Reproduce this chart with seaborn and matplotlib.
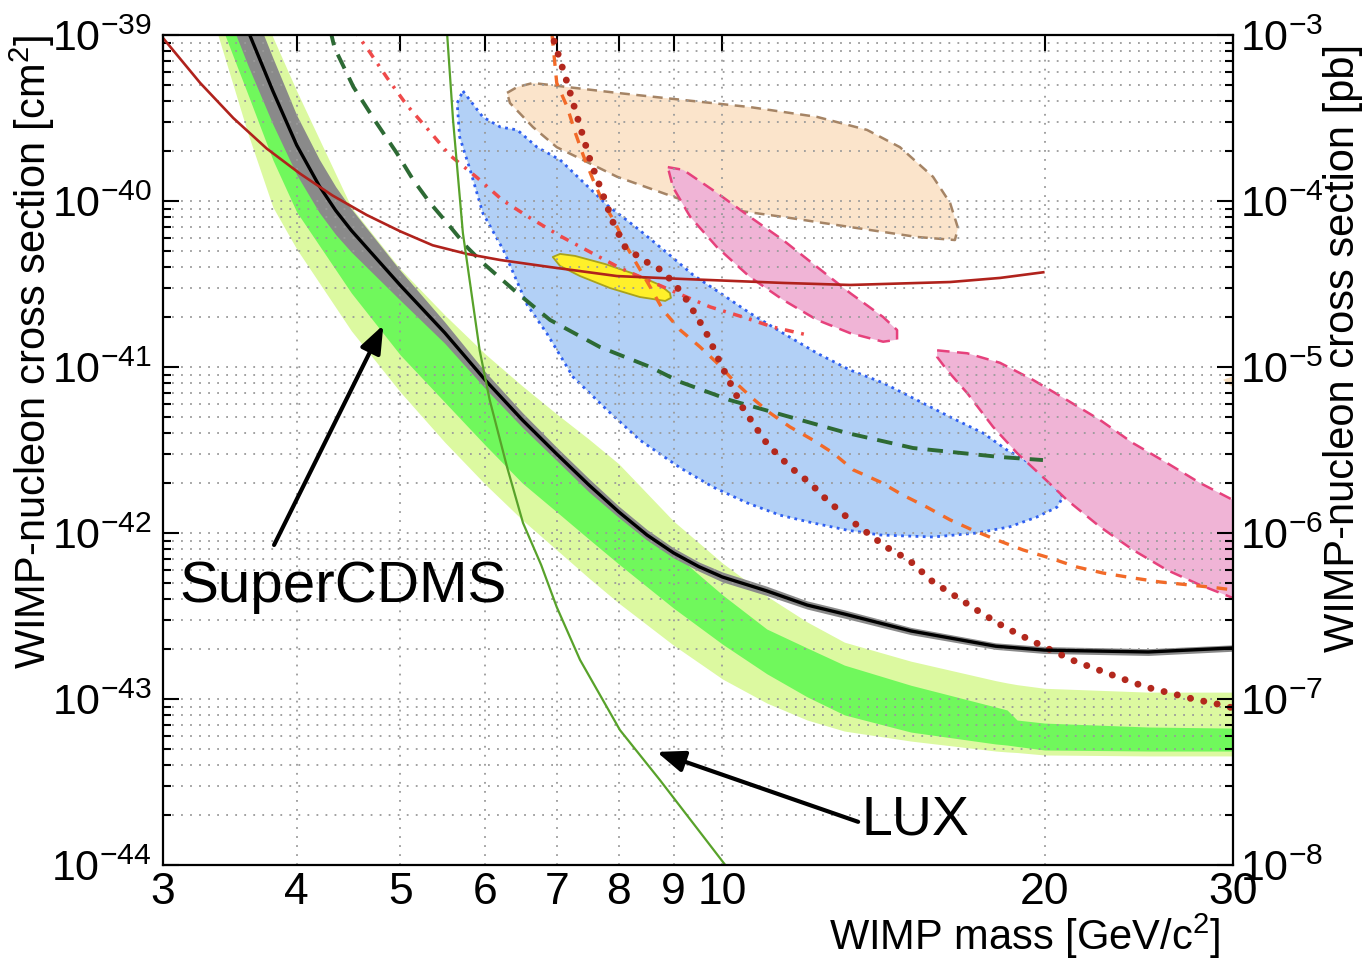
import numpy as np
import pandas as pd
import matplotlib
matplotlib.use("Agg")
import matplotlib.pyplot as plt
from matplotlib.ticker import (FixedLocator, FixedFormatter, LogLocator,
                               LogFormatterSciNotation, NullLocator, NullFormatter)
import seaborn as sns

# ---------------------------------------------------------------- data
CM2_PER_PB = 1e-36

x_ticks = [3, 4, 5, 6, 7, 8, 9, 10, 20, 30]
x_tick_labels = ["3", "4", "5", "6", "7", "8", "9", "10", "20", "30"]

# SuperCDMS observed limit with its uncertainty band
cdms_mass = [3.5, 3.6, 3.8, 4.0, 4.2, 4.35, 4.5, 5.0, 5.5, 6.0, 6.5, 7.0, 7.5, 8.0,
             8.5, 9.0, 9.5, 10, 11, 12, 13, 15, 18, 20, 25, 30]
cdms_limit = [1.74e-39, 1.07e-39, 4.60e-40, 2.17e-40, 1.23e-40, 8.77e-41, 6.64e-41,
              3.10e-41, 1.61e-41, 8.36e-42, 4.80e-42, 2.99e-42, 1.95e-42, 1.34e-42,
              9.73e-43, 7.59e-43, 6.28e-43, 5.43e-43, 4.48e-43, 3.68e-43, 3.25e-43,
              2.57e-43, 2.08e-43, 1.97e-43, 1.92e-43, 2.03e-43]
cdms_limit_lo = [1.05e-39, 6.61e-40, 2.90e-40, 1.44e-40, 8.51e-41, 6.28e-41, 4.92e-41,
                 2.52e-41, 1.39e-41, 7.45e-42, 4.33e-42, 2.73e-42, 1.77e-42, 1.24e-42,
                 9.06e-43, 7.08e-43, 5.90e-43, 5.07e-43, 4.20e-43, 3.48e-43, 3.07e-43,
                 2.44e-43, 1.99e-43, 1.88e-43, 1.83e-43, 1.94e-43]
cdms_limit_hi = [2.88e-39, 1.74e-39, 7.29e-40, 3.29e-40, 1.78e-40, 1.22e-40, 8.95e-41,
                 3.81e-41, 1.87e-41, 9.38e-42, 5.32e-42, 3.28e-42, 2.13e-42, 1.45e-42,
                 1.05e-42, 8.13e-43, 6.70e-43, 5.82e-43, 4.78e-43, 3.90e-43, 3.44e-43,
                 2.70e-43, 2.18e-43, 2.07e-43, 2.01e-43, 2.12e-43]

# expected sensitivity: 1 sigma (green) and 2 sigma (light) bands
sens_mass = [3.3, 3.4, 3.5, 3.6, 3.8, 4.0, 4.5, 5.0, 5.5, 6.0, 6.5, 7.0, 7.5, 8.0,
             9.0, 10, 11, 12, 13, 15, 18, 18.45, 18.85, 20, 25, 30]
sens_2s_lo = [1.62e-39, 8.63e-40, 4.67e-40, 2.57e-40, 9.20e-41, 5.14e-41, 1.65e-41,
              7.06e-42, 3.53e-42, 1.97e-42, 1.20e-42, 7.91e-43, 5.36e-43, 3.78e-43,
              2.11e-43, 1.32e-43, 9.46e-44, 7.47e-44, 6.41e-44, 5.58e-44, 4.86e-44,
              4.80e-44, 4.76e-44, 4.60e-44, 4.54e-44, 4.54e-44]
sens_1s_lo = [1.89e-39, 1.15e-39, 7.06e-40, 4.42e-40, 1.77e-40, 8.59e-41, 2.79e-41,
              1.18e-41, 6.15e-42, 3.39e-42, 2.00e-42, 1.34e-42, 9.20e-43, 6.50e-43,
              3.53e-43, 2.14e-43, 1.42e-43, 1.03e-43, 8.02e-44, 6.32e-44, 5.36e-44,
              5.28e-44, 5.18e-44, 4.93e-44, 4.86e-44, 4.86e-44]
sens_1s_hi = [4.93e-39, 2.87e-39, 1.74e-39, 1.07e-39, 4.60e-40, 2.17e-40, 6.64e-41,
              3.10e-41, 1.61e-41, 8.36e-42, 4.80e-42, 2.99e-42, 1.95e-42, 1.34e-42,
              7.59e-43, 4.24e-43, 2.64e-43, 2.03e-43, 1.60e-43, 1.21e-43, 8.95e-44,
              8.59e-44, 7.47e-44, 7.16e-44, 6.78e-44, 6.68e-44]
sens_2s_hi = [7.74e-39, 5.00e-39, 3.21e-39, 2.14e-39, 9.72e-40, 4.60e-40, 9.14e-41,
              3.89e-41, 2.06e-41, 1.20e-41, 7.69e-42, 5.21e-42, 3.68e-42, 2.61e-42,
              1.18e-42, 6.59e-43, 4.17e-43, 2.91e-43, 2.20e-43, 1.69e-43, 1.29e-43,
              1.25e-43, 1.22e-43, 1.16e-43, 1.10e-43, 1.10e-43]

# LUX
lux_mass = [5.51, 5.53, 5.60, 5.72, 5.93, 6.06, 6.29, 6.51, 6.77, 7.0, 7.36, 8.02,
            8.74, 10.06, 10.38]
lux_sigma = [1.34e-39, 1.00e-39, 3.08e-40, 6.41e-41, 1.26e-41, 6.32e-42, 2.50e-42,
             1.15e-42, 6.41e-43, 3.58e-43, 1.72e-43, 6.50e-44, 3.25e-44, 1.00e-44, 7.6e-45]

# solid dark-red limit
red_mass = [3.0, 3.25, 3.49, 3.75, 4.03, 4.32, 4.65, 5.0, 5.36, 5.77, 6.2, 6.9, 7.97,
            9.19, 11.39, 13.16, 16.32, 18.17, 20.0]
red_sigma = [9.59e-40, 5.14e-40, 3.16e-40, 2.07e-40, 1.46e-40, 1.08e-40, 8.24e-41,
             6.56e-41, 5.41e-41, 4.80e-41, 4.41e-41, 4.00e-41, 3.53e-41, 3.39e-41,
             3.21e-41, 3.12e-41, 3.25e-41, 3.44e-41, 3.73e-41]

# dark-green dashed limit
dg_mass = [4.30, 4.34, 4.52, 4.75, 4.96, 5.14, 5.33, 5.53, 5.77, 5.97, 6.43, 6.90,
           7.68, 8.56, 9.13, 10.16, 11.56, 13.08, 15.07, 18.17, 19.93]
dg_sigma = [1.07e-39, 8.35e-40, 4.86e-40, 2.95e-40, 1.95e-40, 1.34e-40, 9.73e-41,
            7.36e-41, 5.28e-41, 4.24e-41, 2.79e-41, 1.92e-41, 1.32e-41, 1.00e-41,
            8.13e-42, 6.32e-42, 5.00e-42, 4.00e-42, 3.25e-42, 2.87e-42, 2.75e-42]

# light-red dash-dot limit
dd_mass = [4.51, 4.56, 4.68, 4.86, 5.07, 5.33, 5.56, 5.90, 6.23, 6.61, 7.05, 7.52,
           8.02, 9.07, 9.74, 10.45, 11.15, 12.0]
dd_sigma = [1.10e-39, 1.00e-39, 7.90e-40, 5.51e-40, 3.78e-40, 2.61e-40, 1.89e-40,
            1.38e-40, 1.01e-40, 7.91e-41, 6.16e-41, 4.93e-41, 3.95e-41, 2.79e-41,
            2.30e-41, 2.00e-41, 1.74e-41, 1.56e-41]

# dark-red dotted limit
dot_mass = [6.90, 6.94, 7.16, 7.33, 7.52, 7.72, 7.90, 8.11, 8.43, 8.76, 8.99, 9.23,
            9.47, 9.69, 9.95, 10.21, 10.45, 10.75, 11.01, 11.29, 11.59, 11.89, 12.20,
            12.52, 13.16, 14.22, 14.94, 15.73, 16.56, 17.40, 18.33, 19.30, 20.28,
            21.35, 22.44, 23.68, 24.88, 26.14, 27.53, 28.99, 30.0]
dot_sigma = [1.10e-39, 9.72e-40, 5.14e-40, 3.08e-40, 1.77e-40, 1.12e-40, 7.46e-41,
             5.28e-41, 4.41e-41, 3.84e-41, 3.25e-41, 2.61e-41, 2.00e-41, 1.54e-41,
             1.06e-41, 7.59e-42, 5.66e-42, 4.30e-42, 3.44e-42, 2.91e-42, 2.47e-42,
             2.17e-42, 1.87e-42, 1.58e-42, 1.20e-42, 8.24e-43, 6.87e-43, 5.07e-43,
             4.11e-43, 3.34e-43, 2.72e-43, 2.30e-43, 1.97e-43, 1.69e-43, 1.50e-43,
             1.32e-43, 1.18e-43, 1.09e-43, 1.00e-43, 9.33e-44, 8.83e-44]

# orange dashed limit
or_mass = [6.93, 7.0, 7.16, 7.28, 7.41, 7.57, 7.73, 7.94, 8.14, 8.56, 8.80, 9.13,
           9.53, 9.88, 10.27, 10.66, 11.08, 11.56, 12.15, 12.69, 13.25, 14.04, 14.75,
           15.53, 16.32, 17.14, 18.05, 19.09, 20.23, 21.44, 22.68, 24.19, 25.64,
           27.35, 28.99, 30.0]
or_sigma = [1.00e-39, 5.14e-40, 3.68e-40, 2.61e-40, 1.89e-40, 1.34e-40, 9.86e-41,
            7.36e-41, 5.28e-41, 3.03e-41, 2.20e-41, 1.67e-41, 1.32e-41, 1.06e-41,
            8.13e-42, 6.50e-42, 5.28e-42, 4.36e-42, 3.63e-42, 3.03e-42, 2.40e-42,
            2.03e-42, 1.69e-42, 1.43e-42, 1.20e-42, 1.04e-42, 9.08e-43, 7.91e-43,
            7.07e-43, 6.24e-43, 5.74e-43, 5.36e-43, 5.07e-43, 4.86e-43, 4.67e-43, 4.54e-43]

# signal regions (closed contours)
blue_mass = [5.72, 5.97, 6.20, 6.43, 6.71, 7.05, 7.41, 7.80, 8.32, 8.88, 9.39, 10.01,
             10.61, 11.39, 12.26, 13.16, 14.13, 15.20, 16.32, 17.52, 18.45, 19.38,
             20.23, 20.81, 20.54, 19.68, 18.56, 17.29, 15.73, 14.04, 13.08, 12.15,
             11.32, 10.54, 9.80, 9.13, 8.37, 7.80, 7.25, 6.85, 6.57, 6.24, 5.97,
             5.81, 5.68, 5.65]
blue_sigma = [4.60e-40, 3.21e-40, 2.79e-40, 2.68e-40, 2.11e-40, 1.77e-40, 1.30e-40,
              9.46e-41, 6.87e-41, 4.86e-41, 3.58e-41, 2.72e-41, 2.11e-41, 1.60e-41,
              1.21e-41, 9.59e-42, 8.02e-42, 6.32e-42, 5.00e-42, 4.00e-42, 3.16e-42,
              2.64e-42, 2.08e-42, 1.65e-42, 1.43e-42, 1.25e-42, 1.09e-42, 1.00e-42,
              9.46e-43, 9.73e-43, 1.04e-42, 1.15e-42, 1.28e-42, 1.52e-42, 1.89e-42,
              2.47e-42, 3.63e-42, 5.51e-42, 8.71e-42, 1.60e-41, 2.36e-41, 5.07e-41,
              8.47e-41, 1.54e-40, 2.43e-40, 3.89e-40]

peach_mass = [6.29, 6.43, 6.65, 7.16, 7.97, 9.19, 10.61, 12.26, 13.65, 14.65, 15.73,
              16.32, 16.60, 16.49, 15.20, 13.16, 11.39, 10.23, 9.19, 7.97, 7.0, 6.65, 6.33]
peach_sigma = [4.48e-40, 4.86e-40, 5.14e-40, 4.86e-40, 4.48e-40, 4.06e-40, 3.68e-40,
               3.21e-40, 2.68e-40, 2.11e-40, 1.40e-40, 9.73e-41, 6.87e-41, 5.82e-41,
               6.07e-41, 6.97e-41, 8.02e-41, 8.83e-41, 1.01e-40, 1.40e-40, 2.11e-40,
               2.79e-40, 3.89e-40]
peach_edge_mass = [29.4, 31.0, 31.0]
peach_edge_sigma = [8.36e-42, 9.33e-42, 6.50e-42]

pink1_mass = [8.89, 9.19, 9.88, 10.61, 11.39, 12.26, 13.16, 14.13, 14.56, 14.56, 14.13,
              13.16, 12.26, 11.39, 10.61, 9.88, 9.33, 8.99]
pink1_sigma = [1.60e-40, 1.54e-40, 1.12e-40, 8.02e-41, 5.82e-41, 4.00e-41, 2.79e-41,
               2.00e-41, 1.67e-41, 1.46e-41, 1.42e-41, 1.60e-41, 1.92e-41, 2.54e-41,
               3.48e-41, 5.28e-41, 8.02e-41, 1.21e-40]

pink2_mass = [15.87, 16.93, 18.17, 19.51, 20.99, 22.53, 24.19, 26.03, 27.95, 30.0, 31.8,
              31.8, 30.0, 27.95, 26.03, 24.19, 22.53, 20.99, 19.93, 18.85, 17.90, 16.93,
              16.21, 15.87]
pink2_sigma = [1.26e-41, 1.21e-41, 1.06e-41, 8.36e-42, 6.32e-42, 4.80e-42, 3.48e-42,
               2.64e-42, 2.00e-42, 1.58e-42, 1.30e-42, 3.68e-43, 4.06e-43, 4.86e-43,
               5.98e-43, 7.91e-43, 1.09e-42, 1.58e-42, 2.17e-42, 3.03e-42, 4.36e-42,
               6.97e-42, 9.59e-42, 1.15e-41]

yellow_mass = [6.94, 7.05, 7.28, 7.77, 8.28, 8.74, 8.93, 8.95, 8.84, 8.37, 7.85, 7.36, 7.05]
yellow_sigma = [4.60e-41, 4.80e-41, 4.67e-41, 4.17e-41, 3.63e-41, 3.12e-41, 2.79e-41,
                2.61e-41, 2.50e-41, 2.64e-41, 2.99e-41, 3.53e-41, 4.06e-41]

# ---------------------------------------------------------------- style
sns.set_theme(style="white")
plt.rcParams["font.family"] = ["Liberation Sans", "DejaVu Sans"]
plt.rcParams["mathtext.fontset"] = "custom"
plt.rcParams["mathtext.rm"] = "Liberation Sans"
plt.rcParams["mathtext.it"] = "Liberation Sans:italic"
plt.rcParams["mathtext.bf"] = "Liberation Sans:bold"
plt.rcParams["mathtext.default"] = "regular"
plt.rcParams["axes.unicode_minus"] = False
for key in ("text.color", "axes.labelcolor", "xtick.color", "ytick.color",
            "xtick.labelcolor", "ytick.labelcolor", "axes.edgecolor"):
    plt.rcParams[key] = "black"

fig = plt.figure(figsize=(13.65, 9.59), dpi=100)
ax = fig.add_axes([163 / 1365, 1 - 865 / 959, 1070 / 1365, 830 / 959])
ax.set_xscale("log")
ax.set_yscale("log")
ax.set_xlim(3, 30)
ax.set_ylim(1e-44, 1e-39)


def curve(mass, sigma, color, lw, dashes=None, z=2.0, cap="butt"):
    df = pd.DataFrame({"mass": mass, "sigma": sigma})
    sns.lineplot(data=df, x="mass", y="sigma", ax=ax, color=color, linewidth=lw,
                 estimator=None, sort=False, legend=False, zorder=z)
    line = ax.lines[-1]
    if dashes is not None:
        line.set_dashes(dashes)
    line.set_dash_capstyle(cap)
    line.set_solid_capstyle(cap)
    line.set_solid_joinstyle("round")
    return line


def region(mass, sigma, face, edge, lw, ls, z):
    ax.fill(mass, sigma, facecolor=face, edgecolor=edge, linewidth=lw,
            linestyle=ls, zorder=z, joinstyle="round")


# sensitivity bands
ax.fill_between(sens_mass, sens_2s_lo, sens_2s_hi, color="#dcf9a0", lw=0, zorder=1.00)
ax.fill_between(sens_mass, sens_1s_lo, sens_1s_hi, color="#70f85c", lw=0, zorder=1.05)
ax.fill_between(cdms_mass, cdms_limit_lo, cdms_limit_hi, color="#8a8a8a", lw=0, zorder=1.10)

# signal regions
region(blue_mass, blue_sigma, "#b2d0f6", "#2f5ff0", 2.0, (0, (1.0, 1.6)), 1.20)
region(peach_mass, peach_sigma, "#fbe4cb", "#a58465", 1.8, (0, (4.0, 2.6)), 1.20)
region(peach_edge_mass, peach_edge_sigma, "#f6dcbc", "#f6dcbc", 0.5, "-", 1.20)
region(pink1_mass, pink1_sigma, "#f0b4d6", "#e6417c", 1.8, (0, (5.0, 3.0)), 1.25)
region(pink2_mass, pink2_sigma, "#f0b4d6", "#e6417c", 1.8, (0, (5.0, 3.0)), 1.25)
region(yellow_mass, yellow_sigma, "#fff02a", "#a9a21c", 1.3, "-", 1.30)

# grid
ax.set_axisbelow("line")
ax.grid(which="major", axis="x", color="#9a9a9a", lw=1.3, ls=(0, (1, 4)))
ax.grid(which="both", axis="y", color="#9a9a9a", lw=1.3, ls=(0, (1, 4)))

# exclusion curves
curve(dg_mass, dg_sigma, "#2d6a34", 2.8, dashes=(4.0, 2.6), z=2.10)
curve(dd_mass, dd_sigma, "#ef4a4a", 2.5, dashes=(2.6, 2.2, 0.8, 2.2), z=2.15)
curve(or_mass, or_sigma, "#f26a28", 2.4, dashes=(3.2, 2.9), z=2.20)
curve(dot_mass, dot_sigma, "#b3281d", 5.0, dashes=(0.01, 1.95), z=2.25, cap="round")
curve(cdms_mass, cdms_limit, "black", 2.4, z=2.30)
curve(red_mass, red_sigma, "#b0221c", 1.9, z=2.40)
curve(lux_mass, lux_sigma, "#58a22a", 1.6, z=2.50)

# annotations
arrow = dict(arrowstyle="-|>,head_length=0.62,head_width=0.24", color="black",
             lw=3.0, mutation_scale=27, shrinkA=0, shrinkB=0)
ax.annotate("", xy=(4.82, 1.79e-41), xytext=(3.81, 8.47e-43), arrowprops=arrow, zorder=3)
ax.annotate("", xy=(8.68, 4.80e-44), xytext=(13.39, 1.82e-44), arrowprops=arrow, zorder=3)
ax.text(3.11, 3.84e-43, "SuperCDMS", fontsize=42, color="black", ha="left",
        va="baseline", zorder=3)
ax.text(13.5, 1.52e-44, "LUX", fontsize=40, color="black", ha="left",
        va="baseline", zorder=3)

# axes, ticks
ax.xaxis.set_major_locator(FixedLocator(x_ticks))
ax.xaxis.set_major_formatter(FixedFormatter(x_tick_labels))
ax.xaxis.set_minor_locator(NullLocator())
ax.xaxis.set_minor_formatter(NullFormatter())
ax.yaxis.set_major_locator(LogLocator(base=10, numticks=20))
ax.yaxis.set_minor_locator(LogLocator(base=10, subs=np.arange(2, 10), numticks=20))
ax.yaxis.set_major_formatter(LogFormatterSciNotation())
ax.yaxis.set_minor_formatter(NullFormatter())
ax.tick_params(which="both", direction="in", top=True, right=False, color="black",
               labelcolor="black", width=1.5)
ax.tick_params(which="major", length=11.5)
ax.tick_params(which="minor", length=5.5)
ax.tick_params(axis="x", which="major", labelsize=32, pad=5)
ax.tick_params(axis="y", which="major", labelsize=31, pad=8)
ax.set_xlabel("")
ax.set_ylabel("")
for s in ax.spines.values():
    s.set_color("black")
    s.set_linewidth(1.6)

ax2 = ax.twinx()
ax2.set_yscale("log")
ax2.set_ylim(1e-44 / CM2_PER_PB, 1e-39 / CM2_PER_PB)
ax2.yaxis.set_major_locator(LogLocator(base=10, numticks=20))
ax2.yaxis.set_minor_locator(LogLocator(base=10, subs=np.arange(2, 10), numticks=20))
ax2.yaxis.set_major_formatter(LogFormatterSciNotation())
ax2.yaxis.set_minor_formatter(NullFormatter())
ax2.tick_params(which="both", direction="in", right=True, left=False, color="black",
                labelcolor="black", width=1.5)
ax2.tick_params(which="major", length=11.5, labelsize=31, pad=5)
ax2.tick_params(which="minor", length=5.5)
ax2.grid(False)
for s in ax2.spines.values():
    s.set_visible(False)

fig.text(32 / 1365, 1 - 352 / 959, r"WIMP-nucleon cross section [cm$^2$]",
         rotation=90, ha="center", va="center", fontsize=30, color="black")
fig.text(1343 / 1365, 1 - 348 / 959, "WIMP-nucleon cross section [pb]",
         rotation=90, ha="center", va="center", fontsize=30, color="black")
fig.text(1220 / 1365, 1 - 936 / 959, r"WIMP mass [GeV/c$^2$]",
         ha="right", va="center", fontsize=30, color="black")

fig.savefig("out.png", dpi=100)
